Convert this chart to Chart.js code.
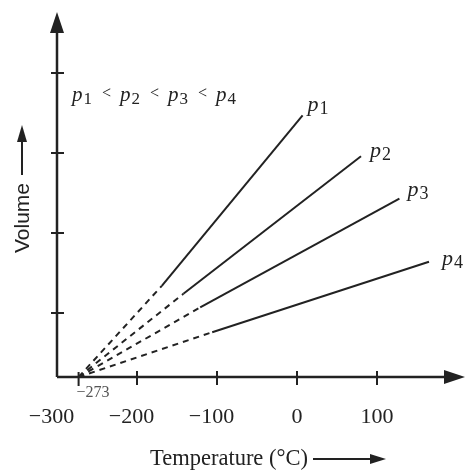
<!DOCTYPE html>
<html>
<head>
<meta charset="utf-8">
<script src="https://cdn.jsdelivr.net/npm/chart.js@4"></script>
<style>
  html, body { margin: 0; padding: 0; background: #fff; }
  #wrap { width: 465px; height: 472px; }
</style>
</head>
<body>
<div id="wrap"><canvas id="chart"></canvas></div>
<script>
// data (temperature in degC, volume in arbitrary units)
const pressures = ['1', '2', '3', '4'];
const absZero = -273;
const solidFromT = [-169, -142, -121, -106];
const solidFromV = [1.14, 1.04, 0.87, 0.56];
const solidToT = [7, 80, 128, 165];
const solidToV = [3.27, 2.76, 2.23, 1.44];
const xTickValues = [-300, -200, -100, 0, 100];
const yTickValues = [0.8, 1.8, 2.8, 3.8];

// label nudges (px) for the end-of-line p labels
const labelDx = [5, 9, 8, 13];
const labelDy = [-4, 1, -3, 3];

const INK = '#222';
const SERIF = '"Liberation Serif", "DejaVu Serif", serif';
const SANS = '"Liberation Sans", Arial, sans-serif';

const datasets = pressures.map((p, i) => ({
  label: 'p' + p,
  data: [
    { x: absZero, y: 0 },
    { x: solidFromT[i], y: solidFromV[i] },
    { x: solidToT[i], y: solidToV[i] }
  ],
  showLine: true,
  borderColor: INK,
  borderWidth: 2,
  pointRadius: 0,
  segment: {
    borderDash: ctx => ctx.p0DataIndex === 0 ? [6, 5] : undefined
  }
}));

function drawP(ctx, x, y, sub, size) {
  ctx.font = 'italic ' + size + 'px ' + SERIF;
  ctx.fillText('p', x, y);
  const w = ctx.measureText('p').width;
  ctx.font = Math.round(size * 0.8) + 'px ' + SERIF;
  ctx.fillText(sub, x + w + 1, y + 3);
}

function arrowHead(ctx, tipX, tipY, dir, len, half) {
  ctx.beginPath();
  if (dir === 'up') {
    ctx.moveTo(tipX, tipY);
    ctx.lineTo(tipX - half, tipY + len);
    ctx.lineTo(tipX + half, tipY + len);
  } else {
    ctx.moveTo(tipX, tipY);
    ctx.lineTo(tipX - len, tipY - half);
    ctx.lineTo(tipX - len, tipY + half);
  }
  ctx.closePath();
  ctx.fill();
}

const axesPlugin = {
  id: 'axesPlugin',
  beforeDatasetsDraw(chart) {
    const { ctx, chartArea: a, scales: { x, y } } = chart;
    ctx.save();
    ctx.strokeStyle = INK;
    ctx.fillStyle = INK;
    ctx.lineWidth = 2.5;
    // axis lines
    ctx.beginPath();
    ctx.moveTo(a.left, a.bottom);
    ctx.lineTo(a.left, a.top + 12);
    ctx.moveTo(a.left, a.bottom);
    ctx.lineTo(a.right - 14, a.bottom);
    ctx.stroke();
    arrowHead(ctx, a.left, a.top - 1, 'up', 21, 7);
    arrowHead(ctx, a.right + 2, a.bottom, 'right', 21, 7);
    // tick marks across the axes
    ctx.lineWidth = 2;
    ctx.beginPath();
    xTickValues.forEach(v => {
      if (v === xTickValues[0]) return;
      const px = x.getPixelForValue(v);
      ctx.moveTo(px, a.bottom - 6);
      ctx.lineTo(px, a.bottom + 8);
    });
    const pz = x.getPixelForValue(absZero);
    ctx.moveTo(pz, a.bottom - 5);
    ctx.lineTo(pz, a.bottom + 9);
    yTickValues.forEach(v => {
      const py = y.getPixelForValue(v);
      ctx.moveTo(a.left - 6, py);
      ctx.lineTo(a.left + 7, py);
    });
    ctx.stroke();
    ctx.restore();
  },
  afterDraw(chart) {
    const { ctx, chartArea: a, scales: { x, y } } = chart;
    ctx.save();
    ctx.fillStyle = INK;
    ctx.strokeStyle = INK;
    ctx.textBaseline = 'alphabetic';
    ctx.textAlign = 'left';

    // end labels
    pressures.forEach((p, i) => {
      const px = x.getPixelForValue(solidToT[i]) + labelDx[i];
      const py = y.getPixelForValue(solidToV[i]) + labelDy[i];
      drawP(ctx, px, py, p, 22);
    });

    // p1 < p2 < p3 < p4
    pressures.forEach((p, i) => {
      const sx = a.left + 15 + 48 * i;
      drawP(ctx, sx, 101, p, 21);
      if (i < pressures.length - 1) {
        ctx.font = '16px ' + SERIF;
        ctx.fillText('<', sx + 30, 98);
      }
    });

    // -273 label
    ctx.fillStyle = '#555';
    ctx.font = '16px ' + SERIF;
    ctx.fillText('\u2212273', x.getPixelForValue(absZero) - 2, a.bottom + 20);

    // x title with arrow
    ctx.fillStyle = INK;
    ctx.font = '22.5px ' + SERIF;
    ctx.fillText('Temperature (\u00B0C)', 150, 465);
    ctx.lineWidth = 2;
    ctx.beginPath();
    ctx.moveTo(313, 459);
    ctx.lineTo(372, 459);
    ctx.stroke();
    arrowHead(ctx, 386, 459, 'right', 16, 5);

    // y title with arrow
    ctx.save();
    ctx.translate(29, 253);
    ctx.rotate(-Math.PI / 2);
    ctx.font = '21px ' + SANS;
    ctx.fillText('Volume', 0, 0);
    ctx.restore();
    ctx.beginPath();
    ctx.moveTo(22, 175);
    ctx.lineTo(22, 140);
    ctx.stroke();
    arrowHead(ctx, 22, 125, 'up', 17, 5);

    ctx.restore();
  }
};

const config = {
  type: 'scatter',
  data: { datasets: datasets },
  options: {
    responsive: false,
    animation: false,
    layout: { padding: { left: 57, top: 13, right: 2, bottom: 0 } },
    plugins: {
      legend: { display: false },
      tooltip: { enabled: false }
    },
    scales: {
      x: {
        type: 'linear',
        min: -300,
        max: 207.5,
        grid: { display: false, drawTicks: false },
        border: { display: false },
        afterBuildTicks: scale => {
          scale.ticks = xTickValues.map(v => ({ value: v }));
        },
        afterFit: scale => { scale.height = 95; },
        ticks: {
          padding: 27,
          color: INK,
          font: { family: SERIF, size: 22 },
          // minus hangs to the left of the centred digits, as in the original
          callback: v => (v < 0 ? '\u2212' + Math.abs(v) + '\u2002' : String(v))
        }
      },
      y: {
        type: 'linear',
        min: 0,
        max: 4.55,
        display: false
      }
    }
  },
  plugins: [axesPlugin]
};

const canvas = document.getElementById('chart');
canvas.width = 465;
canvas.height = 472;
const myChart = new Chart(canvas, config);
</script>
</body>
</html>
